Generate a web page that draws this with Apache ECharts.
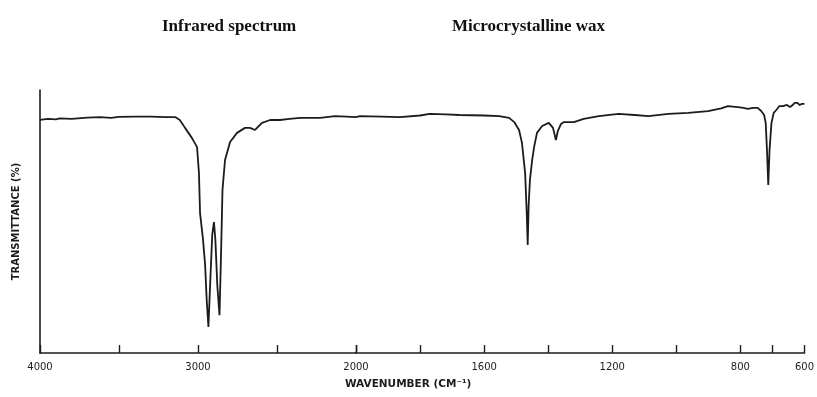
<!DOCTYPE html>
<html>
<head>
<meta charset="utf-8">
<script src="https://cdn.jsdelivr.net/npm/echarts@6/dist/echarts.min.js"></script>
<style>html,body{margin:0;padding:0;background:#fff}#c{width:817px;height:397px}</style>
</head>
<body>
<div id="c"></div>
<script>
// Wavenumber (cm-1) and transmittance (%)
const wavenumbers = [4000, 3950, 3900, 3875, 3800, 3700, 3620, 3550, 3500, 3400, 3300, 3200, 3145, 3115, 3082, 3038, 3006, 2994, 2987, 2968, 2955, 2945, 2934, 2922, 2910, 2899, 2890, 2878, 2864, 2855, 2845, 2829, 2797, 2753, 2703, 2671, 2639, 2595, 2544, 2481, 2420, 2354, 2290, 2228, 2133, 2060, 2000,
  1988, 1920, 1863, 1800, 1770, 1720, 1677, 1600, 1553, 1522, 1506, 1491, 1482, 1478, 1472, 1467, 1464, 1461, 1457, 1450, 1444, 1435, 1419, 1398, 1385, 1376, 1370, 1360, 1351, 1320, 1289, 1242, 1180, 1130, 1087, 1025, 963, 901, 860, 839, 808, 790, 777, 760, 746, 735, 726, 721, 717, 713, 709, 703, 696, 688, 678, 667, 655, 645, 637, 630, 622, 615, 608, 600];
const transmittance = [88.6, 89.0, 88.8, 89.2, 89.0, 89.5, 89.7, 89.4, 89.8, 89.9, 89.9, 89.7, 89.7, 88.6, 85.6, 81.7, 78.3, 68.4, 53.2, 43.0, 33.5, 20.2, 9.9, 27.8, 44.9, 49.8, 43.0, 25.9, 14.4, 35.4, 62.0, 73.4, 80.2, 83.7, 85.6, 85.6, 84.8, 87.5, 88.6, 88.6, 89.0, 89.4, 89.4, 89.4, 90.1, 89.9, 89.7,
  90.1, 89.9, 89.7, 90.3, 90.9, 90.7, 90.5, 90.3, 90.1, 89.4, 87.8, 84.8, 80.0, 79.8, 68.4, 53.2, 41.1, 56.3, 65.8, 73.4, 78.3, 83.7, 86.3, 87.5, 85.6, 81.0, 84.4, 87.1, 87.8, 87.8, 89.0, 90.1, 90.9, 90.5, 90.1, 90.9, 91.3, 92.0, 93.0, 93.9, 93.5, 93.2, 92.8, 93.2, 93.2, 92.0, 90.5, 87.5, 77.2, 63.9, 77.2, 87.5, 91.3, 92.4, 93.9, 93.9, 94.3, 93.5, 94.3, 95.1, 95.1, 94.3, 94.7, 94.7];

const ticksHigh = [4000, 3500, 3000, 2500, 2000];
const ticksLow = [2000, 1800, 1600, 1400, 1200, 1000, 800, 700, 600];
const labelsHigh = [4000, 3000, 2000];
const labelsLow = [1600, 1200, 800, 600];

const highData = [], lowData = [];
wavenumbers.forEach((w, i) => {
  if (w >= 2000) highData.push([w, transmittance[i]]);
  if (w <= 2000) lowData.push([w, transmittance[i]]);
});

const ink = '#1c1c1c';
const tickLabelStyle = { color: ink, fontSize: 10, fontFamily: 'DejaVu Sans', margin: 9, formatter: v => String(v) };

function xAx(gridIndex, min, max, ticks, labels) {
  return {
    type: 'value', gridIndex, min, max, inverse: true,
    axisLine: { show: true, lineStyle: { color: ink, width: 1.6 } },
    axisTick: { show: true, inside: true, length: 8, lineStyle: { color: ink, width: 1.4 }, customValues: ticks },
    axisLabel: Object.assign({ show: true, customValues: labels }, tickLabelStyle),
    splitLine: { show: false }
  };
}

const chart = echarts.init(document.getElementById('c'), null, { renderer: 'canvas' });
chart.setOption({
  animation: false,
  backgroundColor: '#fff',
  title: [
    { text: 'Infrared spectrum', left: 157, top: 13, textStyle: { fontFamily: 'Liberation Serif', fontWeight: 'bold', fontSize: 17, color: '#111' } },
    { text: 'Microcrystalline wax', left: 447, top: 13, textStyle: { fontFamily: 'Liberation Serif', fontWeight: 'bold', fontSize: 17, color: '#111' } }
  ],
  grid: [
    { left: 40, top: 90, width: 316, height: 263 },
    { left: 356, top: 90, width: 451, height: 263 }
  ],
  xAxis: [
    xAx(0, 2000, 4000, ticksHigh, labelsHigh),
    xAx(1, 600, 2000, ticksLow, labelsLow)
  ],
  yAxis: [
    { type: 'value', gridIndex: 0, min: 0, max: 100,
      name: 'TRANSMITTANCE (%)', nameLocation: 'middle', nameGap: 19, nameRotate: 90,
      nameTextStyle: { fontFamily: 'DejaVu Sans', fontWeight: 'bold', fontSize: 10, color: ink },
      axisLine: { show: true, lineStyle: { color: ink, width: 1.6 } },
      axisTick: { show: false }, axisLabel: { show: false }, splitLine: { show: false } },
    { type: 'value', gridIndex: 1, min: 0, max: 100, show: false, splitLine: { show: false } }
  ],
  graphic: [
    { type: 'text', left: 345, top: 379,
      style: { text: 'WAVENUMBER (CM⁻¹)', font: 'bold 10.5px "DejaVu Sans"', fill: ink } }
  ],
  series: [
    { type: 'line', xAxisIndex: 0, yAxisIndex: 0, data: highData, showSymbol: false, smooth: false,
      lineStyle: { color: ink, width: 1.8 } },
    { type: 'line', xAxisIndex: 1, yAxisIndex: 1, data: lowData, showSymbol: false, smooth: false,
      lineStyle: { color: ink, width: 1.8 } }
  ]
});
</script>
</body>
</html>
